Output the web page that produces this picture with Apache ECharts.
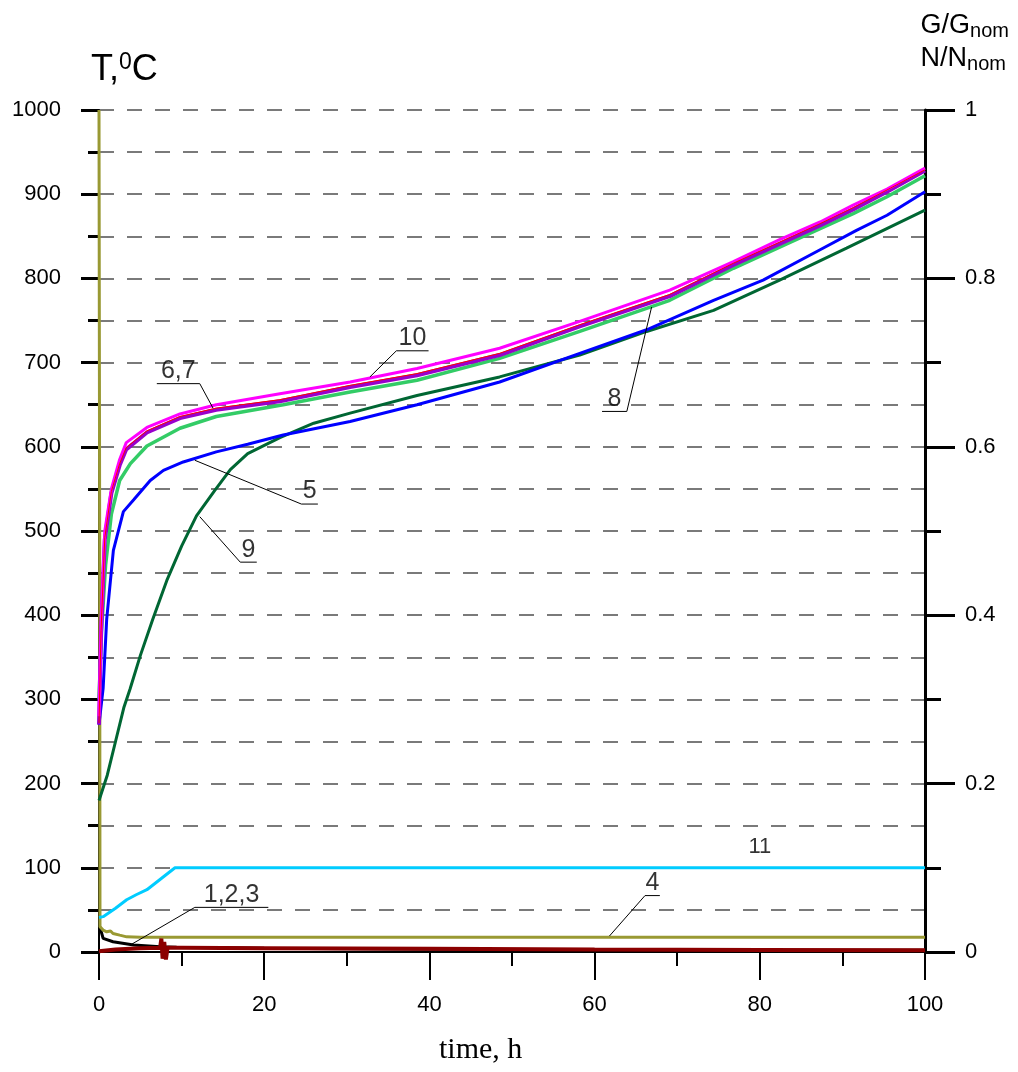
<!DOCTYPE html>
<html>
<head>
<meta charset="utf-8">
<script src="https://cdn.jsdelivr.net/npm/echarts@6/dist/echarts.min.js"></script>
<style>html,body{margin:0;padding:0;background:#fff}#c{width:1018px;height:1072px}</style>
</head>
<body>
<div id="c"></div>
<script>
// ---- data (time in h, temperature in °C, relative values on right axis) ----
const xTicks = [0, 20, 40, 60, 80, 100];
const leftTicks = [0, 100, 200, 300, 400, 500, 600, 700, 800, 900, 1000];
const rightTicks = [0, 0.2, 0.4, 0.6, 0.8, 1];

const curve10 = [[0,280],[0.25,390],[0.7,500],[1.5,550],[2.5,585],[3.3,605],[5.8,623],[9.8,639],[14.2,650],[21.9,663],[30.4,677],[38.5,693],[48.5,717],[58.2,749],[69.1,786],[76.8,820],[82.4,846],[87.3,867],[91.3,887],[95.4,906],[100,931]];
const curve6 = [[0,270],[0.25,380],[0.7,490],[1.5,545],[2.5,578],[3.3,597],[5.8,617],[9.8,634],[14.2,644],[21.9,654],[30.4,671],[38.5,685],[48.5,709],[58.2,743],[69.1,779],[76.8,816],[82.4,841],[87.3,863],[91.3,882],[95.4,903],[100,928]];
const curve7 = [[0,272],[0.25,382],[0.7,492],[1.5,547],[2.5,580],[3.3,599],[5.8,619],[9.8,636],[14.2,646],[21.9,656],[30.4,673],[38.5,687],[48.5,711],[58.2,745],[69.1,781],[76.8,818],[82.4,843],[87.3,865],[91.3,884],[95.4,905],[100,929]];
const curve8 = [[0,300],[0.3,380],[0.8,460],[1.5,520],[2.5,560],[3.8,580],[5.8,601],[9.8,622],[14.2,636],[22.3,650],[30.4,665],[38.5,679],[48.5,705],[58.2,737],[69.1,774],[76.8,812],[82.4,837],[87.3,859],[91.3,877],[95.4,897],[100,922]];
const curve5 = [[0,270],[0.5,313],[0.93,395],[1.74,477],[2.95,523],[4.2,537],[6.2,560],[7.8,572],[10.2,582],[14.2,594],[18,603],[22.3,614],[30.4,630],[38.5,650],[48.5,677],[58.2,711],[66.3,739],[74.4,774],[80.4,798],[87.3,834],[91.7,857],[95.4,875],[100,903]];
const curve9 = [[0,180],[1,210],[2,250],[3,290],[3.75,312],[5,352],[6.5,395],[8.2,441],[10,482],[11.8,518],[14,548],[15.9,573],[18,592],[21.9,611],[26,628],[30.4,640],[38.5,661],[48.5,683],[58.2,709],[66.3,737],[74.4,762],[82.4,798],[90.5,836],[100,881]];
// relative quantities (right axis)
const curve11 = [[0,0.041],[0.5,0.042],[2,0.052],[3.35,0.062],[4.5,0.068],[5.8,0.074],[7.5,0.087],[9.2,0.1],[100,0.1]];
const curve4 = [[0,1.0],[0.08,0.5],[0.12,0.03],[0.5,0.026],[0.93,0.024],[1.4,0.025],[1.7,0.022],[2.5,0.02],[3.35,0.018],[5,0.0176],[100,0.0175]];
const curve1 = [[0.1,0.03],[0.5,0.0162],[1.7,0.0122],[4.2,0.0083],[7.4,0.0063],[9.4,0.0057],[20,0.0045],[40,0.0032],[60,0.0026],[80,0.0022],[100,0.002]];
const curve2 = [[0,0.001],[2,0.003],[5,0.0045],[7.4,0.005],[7.55,0.016],[7.7,-0.008],[7.9,0.012],[8.1,-0.009],[8.3,0.005],[10,0.005],[20,0.0045],[40,0.0038],[60,0.003],[80,0.0025],[100,0.002]];

// annotations: [anchor on curve], [elbow], [end of underline] in data units (left axis)
const notes = [
  {text:'10', pts:[[32.8,683],[36.0,714],[39.9,714]]},
  {text:'6,7', pts:[[13.8,646],[12.2,675],[7.0,675]]},
  {text:'8', pts:[[66.9,766],[63.9,642],[60.9,642]]},
  {text:'5', pts:[[11.6,584],[24.5,532],[26.5,532]]},
  {text:'9', pts:[[12.2,517],[17.1,463],[19.1,463]]},
  {text:'4', pts:[[61.8,19],[66.1,67],[67.9,67]]},
  {text:'1,2,3', pts:[[4.0,9.5],[11.6,53],[20.5,53]]}
];
const plainNotes = [{text:'11', pos:[80.0,112]}];

const chart = echarts.init(document.getElementById('c'), null, {renderer:'canvas'});
const FONT = 'Liberation Sans, Arial, sans-serif';

function line(name, data, color, width, yIdx, z) {
  return {name, type:'line', data, yAxisIndex:yIdx||0, showSymbol:false, symbol:'none',
    lineStyle:{color, width}, itemStyle:{color}, z:z||2, clip:false, animation:false};
}

const series = [
  line('1', curve1, '#000000', 3, 1, 3),
  line('2,3', curve2, '#8b0000', 4, 1, 4),
  line('4', curve4, '#999933', 3, 1, 3),
  line('11', curve11, '#00ccff', 3, 1, 3),
  line('9', curve9, '#006633', 3, 0, 3),
  line('5', curve5, '#0000ff', 3, 0, 3),
  line('8', curve8, '#33cc66', 3.5, 0, 3),
  line('6', curve6, '#9900cc', 4, 0, 4),
  line('7', curve7, '#ff0000', 1, 0, 5),
  line('10', curve10, '#ff00ff', 3, 0, 4)
];

notes.forEach(n => {
  series.push({type:'line', data:n.pts, yAxisIndex:0, showSymbol:false, symbol:'none',
    lineStyle:{color:'#000', width:1}, z:6, clip:false, animation:false, silent:true});
  const mid = [(n.pts[1][0]+n.pts[2][0])/2, n.pts[1][1]];
  series.push({type:'scatter', data:[mid], symbolSize:0, yAxisIndex:0, z:7, animation:false, silent:true,
    label:{show:true, position:'top', distance:0, formatter:n.text, color:'#000', fontSize:25, fontFamily:FONT}});
});
plainNotes.forEach(n => {
  series.push({type:'scatter', data:[n.pos], symbolSize:0, yAxisIndex:0, z:7, animation:false, silent:true,
    label:{show:true, position:'top', distance:0, formatter:n.text, color:'#000', fontSize:22, fontFamily:FONT}});
});

const gridDash = {color:'#7a7a7a', width:2, type:[15,13]};

chart.setOption({
  backgroundColor:'#fff',
  animation:false,
  grid:{left:99, right:93, top:110, bottom:120, containLabel:false},
  title:[
    {text:'T,{s|0}C', left:86, top:46, textStyle:{fontSize:36, fontWeight:'normal', color:'#000', fontFamily:FONT,
      rich:{s:{fontSize:23, verticalAlign:'top', padding:[0,0,16,0], color:'#000', fontFamily:FONT}}}},
    {text:'G/G{b|nom}\nN/N{b|nom}', right:4, top:4, textStyle:{fontSize:27, lineHeight:33, fontWeight:'normal', color:'#000', fontFamily:FONT,
      rich:{b:{fontSize:20, padding:[12,0,0,0], color:'#000', fontFamily:FONT}}}},
    {text:'time, h', left:434, top:1030, textStyle:{fontSize:30, fontWeight:'normal', color:'#000', fontFamily:'Liberation Serif, Times New Roman, serif'}}
  ],
  xAxis:{type:'value', min:xTicks[0], max:xTicks[xTicks.length-1], interval:20,
    axisLine:{show:true, onZero:false, lineStyle:{color:'#000', width:2}},
    axisTick:{show:true, inside:false, length:28, lineStyle:{color:'#000', width:2}},
    minorTick:{show:true, splitNumber:2, length:14, lineStyle:{color:'#000', width:2}},
    splitLine:{show:false},
    axisLabel:{color:'#000', fontSize:22, fontFamily:FONT, margin:42}
  },
  yAxis:[
    {type:'value', min:leftTicks[0], max:leftTicks[leftTicks.length-1], interval:100, position:'left',
      axisLine:{show:true, onZero:false, lineStyle:{color:'#000', width:2}},
      axisTick:{show:true, inside:false, length:18, lineStyle:{color:'#000', width:3}},
      minorTick:{show:true, splitNumber:2, length:11, lineStyle:{color:'#000', width:3}},
      splitLine:{show:true, lineStyle:gridDash},
      minorSplitLine:{show:true, lineStyle:gridDash},
      axisLabel:{color:'#000', fontSize:22, fontFamily:FONT, margin:38, formatter:v => String(v)}
    },
    {type:'value', min:rightTicks[0], max:rightTicks[rightTicks.length-1], interval:0.2, position:'right',
      axisLine:{show:true, onZero:false, lineStyle:{color:'#000', width:3}},
      axisTick:{show:true, inside:false, length:30, lineStyle:{color:'#000', width:3}},
      minorTick:{show:true, splitNumber:2, length:16, lineStyle:{color:'#000', width:3}},
      splitLine:{show:false},
      axisLabel:{color:'#000', fontSize:22, fontFamily:FONT, margin:40, formatter:v => String(+v.toFixed(1))}
    }
  ],
  series
});
</script>
</body>
</html>
